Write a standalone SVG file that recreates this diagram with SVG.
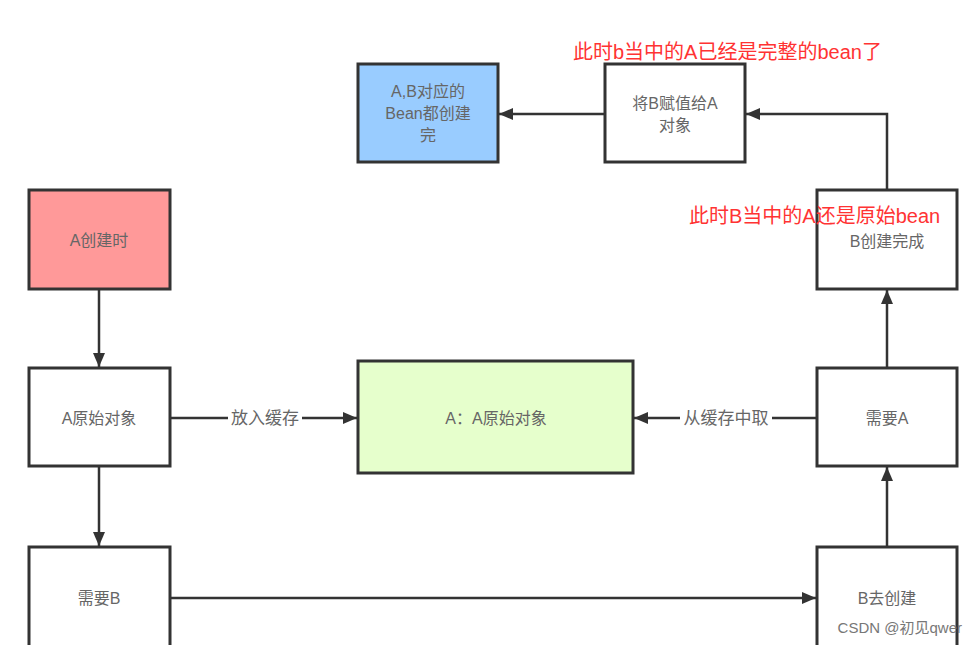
<svg xmlns="http://www.w3.org/2000/svg" width="978" height="645" viewBox="0 0 978 645">
<defs>
<marker id="ah" viewBox="0 0 14 12" refX="14" refY="6" markerWidth="14" markerHeight="12" markerUnits="userSpaceOnUse" orient="auto">
<path d="M0,0 L14,6 L0,12 Z" fill="#333"/>
</marker>
<style>
.box{stroke:#333;stroke-width:3;}
.t{font-family:"Liberation Sans","Noto Sans CJK SC",sans-serif;font-size:16px;fill:#666;text-anchor:middle;dominant-baseline:central;}
.red{font-family:"Liberation Sans","Noto Sans CJK SC",sans-serif;font-size:20px;fill:#ff3333;}
.c{stroke:#333;stroke-width:2.5;fill:none;marker-end:url(#ah);}
.lbl{font-family:"Liberation Sans","Noto Sans CJK SC",sans-serif;font-size:17px;fill:#666;text-anchor:middle;dominant-baseline:central;}
</style>
</defs>
<rect width="978" height="645" fill="#fff"/>
<g id="connectors">
<line class="c" x1="99" y1="289" x2="99" y2="367"/>
<line class="c" x1="99" y1="466" x2="99" y2="546"/>
<line class="c" x1="170" y1="418" x2="357" y2="418"/>
<line class="c" x1="817" y1="418" x2="634" y2="418"/>
<line class="c" x1="170" y1="598" x2="816" y2="598"/>
<line class="c" x1="887" y1="547" x2="887" y2="467"/>
<line class="c" x1="887" y1="368" x2="887" y2="290"/>
<polyline class="c" points="887,190 887,114 746,114"/>
<line class="c" x1="605" y1="114" x2="499" y2="114"/>
<rect x="228" y="406" width="74" height="24" fill="#fff"/>
<text class="lbl" x="265" y="418">放入缓存</text>
<rect x="680" y="406" width="92" height="24" fill="#fff"/>
<text class="lbl" x="726" y="418">从缓存中取</text>
</g>
<g id="n_ab_done">
<rect class="box" x="358" y="64" width="140" height="98" fill="#99ccff"/>
<text class="t" x="428" y="91">A,B对应的</text>
<text class="t" x="428" y="113">Bean都创建</text>
<text class="t" x="428" y="135">完</text>
</g>
<g id="n_assign">
<rect class="box" x="605" y="64" width="140" height="98" fill="#fff"/>
<text class="t" x="675" y="103">将B赋值给A</text>
<text class="t" x="675" y="125">对象</text>
</g>
<g id="n_a_create">
<rect class="box" x="29" y="190" width="141" height="99" fill="#ff9999"/>
<text class="t" x="99" y="240">A创建时</text>
</g>
<g id="n_a_raw">
<rect class="box" x="29" y="368" width="141" height="98" fill="#fff"/>
<text class="t" x="99" y="418">A原始对象</text>
</g>
<g id="n_need_b">
<rect class="box" x="29" y="547" width="141" height="110" fill="#fff"/>
<text class="t" x="99" y="598">需要B</text>
</g>
<g id="n_cache">
<rect class="box" x="358" y="361" width="275" height="112" fill="#e6ffcc"/>
<text class="t" x="496" y="418">A：A原始对象</text>
</g>
<g id="n_b_done">
<rect class="box" x="817" y="190" width="140" height="99" fill="#fff"/>
<text class="t" x="887" y="241">B创建完成</text>
</g>
<g id="n_need_a">
<rect class="box" x="817" y="368" width="140" height="98" fill="#fff"/>
<text class="t" x="887" y="418">需要A</text>
</g>
<g id="n_b_create">
<rect class="box" x="817" y="547" width="140" height="110" fill="#fff"/>
<text class="t" x="887" y="598">B去创建</text>
</g>
<text class="red" x="573" y="59">此时b当中的A已经是完整的bean了</text>
<text class="red" x="689" y="223">此时B当中的A还是原始bean</text>
<text x="962" y="633" font-family="Liberation Sans,'Noto Sans CJK SC',sans-serif" font-size="15" fill="#777" text-anchor="end">CSDN @初见qwer</text>
</svg>
